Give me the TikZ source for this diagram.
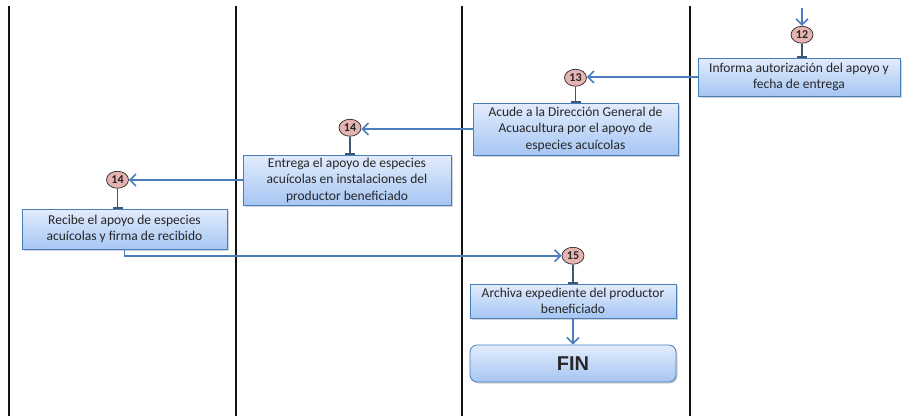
\documentclass[tikz,border=0pt]{standalone}
\usepackage{fontspec}
\setmainfont{Carlito}
\newfontfamily\finfont{Liberation Sans}
\usepackage{tikz}
\usetikzlibrary{shapes,arrows.meta,shadows,calc}
\usetikzlibrary{positioning}
\definecolor{clrBorders}{rgb}{0.08,0.08,0.08}
\definecolor{clrBox}{HTML}{4A7EBB}
\definecolor{clrTop}{HTML}{E2ECFC}
\definecolor{clrBottom}{HTML}{A6C6F3}
\definecolor{clrArrow}{HTML}{4C7EBE}
\definecolor{clrTee}{HTML}{3C5677}
\definecolor{clrPink}{HTML}{E6B4B0}
\definecolor{clrText}{HTML}{262626}
\tikzstyle{lane}=[clrBorders, line width=1.6pt]
\tikzstyle{box_style0}=[draw=clrBox, line width=0.8pt, top color=clrTop, bottom color=clrBottom,
drop shadow={shadow xshift=1.5pt, shadow yshift=-1.5pt, opacity=0.35},
anchor=center, align=center, text=clrText, inner sep=1pt]
\tikzstyle{activity}=[box_style0, font=\fontsize{13.5}{16.5}\selectfont]
\tikzstyle{fin_box}=[box_style0, rounded corners=2.5mm, font=\finfont\bfseries\fontsize{20}{22}\selectfont]
\tikzstyle{step_num}=[ellipse, draw=black!85, line width=0.7pt, fill=clrPink, minimum width=22pt,
minimum height=17pt, inner sep=0pt, font=\bfseries\fontsize{12}{12}\selectfont, text=black!85]
\tikzstyle{myarrow}=[-{Straight Barb[length=6pt,width=12pt]}, clrArrow, line width=1.6pt]
\tikzstyle{tee}=[-{Bar[width=10pt,line width=1.6pt]}, clrTee, line width=1.2pt]

\begin{document}
\begin{tikzpicture}[x=1pt, y=-1pt, node distance=15pt]
		\useasboundingbox (0,0) rectangle (904,416);

		% carriles
		\foreach \x in {9,236,462,690}
			\draw[lane] (\x,6) -- (\x,416);

		\node[activity, minimum width=202pt, minimum height=38pt] (B12) at (799,77) {Informa autorización del apoyo y\\fecha de entrega};
		\node[step_num, above=14pt of B12, xshift=3pt] (C12) {12};
		\coordinate (T12) at (C12 |- 0,8);
		\draw[myarrow] (T12) -- (C12);
		\draw[tee] (C12) -- (C12 |- B12.north);

		\node[activity, minimum width=205pt, minimum height=52pt] (B13) at (575.5,129) {Acude a la Dirección General de\\Acuacultura por el apoyo de\\especies acuícolas};
		\node[step_num, above=16pt of B13] (C13) {13};
		\draw[myarrow] (B12.west) -- (B12.west -| C13.east);
		\draw[tee] (C13) -- (B13);

		\node[activity, minimum width=208pt, minimum height=50pt] (B14) at (347,180) {Entrega el apoyo de especies\\acuícolas en instalaciones del\\productor beneficiado};
		\node[step_num, above=18pt of B14, xshift=3pt] (C14) {14};
		\draw[myarrow] (B13.west) -- (B13.west -| C14.east);
		\draw[tee] (C14) -- (C14 |- B14.north);

		\node[activity, minimum width=205pt, minimum height=40pt] (B14b) at (124.5,229) {Recibe el apoyo de especies\\acuícolas y firma de recibido};
		\node[step_num, above=20pt of B14b, xshift=-7pt] (C14b) {14};
		\draw[myarrow] (B14.west) -- (B14.west -| C14b.east);
		\draw[tee] (C14b) -- (C14b |- B14b.north);

		\node[activity, minimum width=206pt, minimum height=34pt] (B15) at (573,301) {Archiva expediente del productor\\beneficiado};
		\node[step_num, above=19pt of B15] (C15) {15};
		\draw[myarrow] (B14b.south) |- (C15.west);
		\draw[tee] (C15) -- (B15);

		\node[fin_box, minimum width=206pt, minimum height=37pt] (FIN) at (573,363.5) {FIN};
		\draw[myarrow] (B15) -- (FIN);

	\end{tikzpicture}
\end{document}
